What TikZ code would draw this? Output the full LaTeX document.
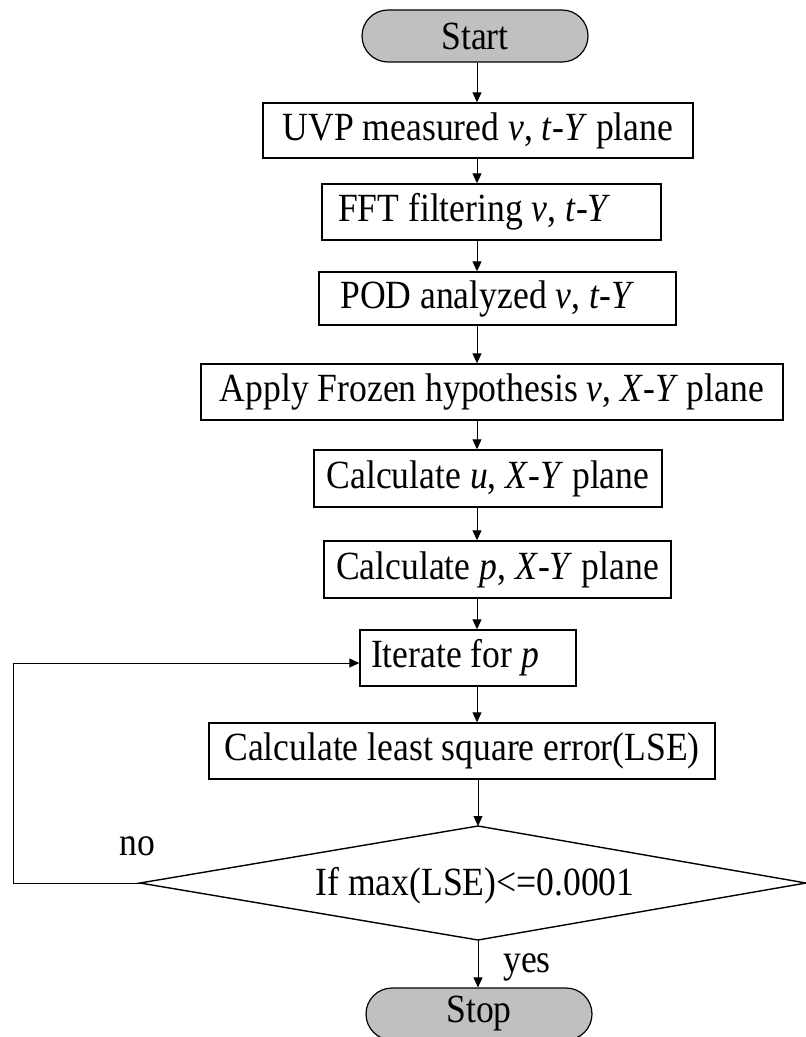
\documentclass[tikz,border=0pt]{standalone}
\usepackage{fontspec}
\setmainfont{Liberation Serif}[FakeStretch=0.89]
\usetikzlibrary{arrows.meta,shapes.misc}
\definecolor{termgray}{RGB}{192,192,192}
\begin{document}
\begin{tikzpicture}[x=1pt,y=-1pt,
  every node/.style={font=\fontsize{40}{44}\selectfont, inner sep=0pt},
  procbox/.style={draw, line width=1.4pt, rectangle},
  term/.style={draw, line width=1.2pt, rounded rectangle, fill=termgray},
  decide/.style={draw, line width=1.4pt, line join=miter},
  arr/.style={draw, line width=0.9pt, -{Triangle[length=10pt,width=9pt]}}]
\useasboundingbox (0,0) rectangle (806,1037);
\coordinate (axis) at (477,0);
\coordinate (lx) at (13,0);

\node[term, minimum width=226pt, minimum height=52pt] (start) at (475,36) {Start};
\node[procbox, minimum width=430pt, minimum height=55pt] (b1) at (478,130.5) {UVP measured \textit{v}, \textit{t}-\textit{Y} plane};
\node[procbox, minimum width=339pt, minimum height=56pt] (b2) at (491.5,212) {FFT filtering \textit{v}, \textit{t}-\textit{Y}\hspace*{34pt}};
\node[procbox, minimum width=357pt, minimum height=53pt] (b3) at (497.5,298.5) {POD analyzed \textit{v}, \textit{t}-\textit{Y}\hspace*{20pt}};
\node[procbox, minimum width=582pt, minimum height=56pt] (b4) at (492,392) {Apply Frozen hypothesis \textit{v}, \textit{X}-\textit{Y} plane};
\node[procbox, minimum width=348pt, minimum height=57pt] (b5) at (488,478.5) {Calculate \textit{u}, \textit{X}-\textit{Y} plane};
\node[procbox, minimum width=347pt, minimum height=57pt] (b6) at (497.5,569.5) {Calculate \textit{p}, \textit{X}-\textit{Y} plane};
\node[procbox, minimum width=216pt, minimum height=56pt] (it) at (468,658) {Iterate for \textit{p}\hspace*{26pt}};
\node[procbox, minimum width=506pt, minimum height=56pt] (lse) at (462,751) {Calculate least square error(LSE)};

\coordinate (dtop) at (478,826);
\coordinate (dleft) at (140,883);
\coordinate (dright) at (806,883);
\coordinate (dbot) at (478,940);
\draw[decide] (dtop) -- (dright) -- (dbot) -- (dleft) -- cycle;
\node (dia) at (475,886) {If max(LSE)<=0.0001};

\node[term, minimum width=226pt, minimum height=52pt] (stop) at (479,1014) {Stop};

\node[anchor=base west] (no) at (119,855) {no};
\node[anchor=base west] (yes) at (503,972) {yes};

\draw[arr] (start.south -| axis) -- (b1.north -| axis);
\draw[arr] (b1.south -| axis) -- (b2.north -| axis);
\draw[arr] (b2.south -| axis) -- (b3.north -| axis);
\draw[arr] (b3.south -| axis) -- (b4.north -| axis);
\draw[arr] (b4.south -| axis) -- (b5.north -| axis);
\draw[arr] (b5.south -| axis) -- (b6.north -| axis);
\draw[arr] (b6.south -| axis) -- (it.north -| axis);
\draw[arr] (it.south -| axis) -- (lse.north -| axis);
\draw[arr] (lse.south -| dtop) -- (dtop);
\draw[arr] (dbot) -- (stop.north -| dbot);
\draw[arr] (dleft) -- (dleft -| lx) |- ([yshift=-5pt]it.west);
\end{tikzpicture}
\end{document}
